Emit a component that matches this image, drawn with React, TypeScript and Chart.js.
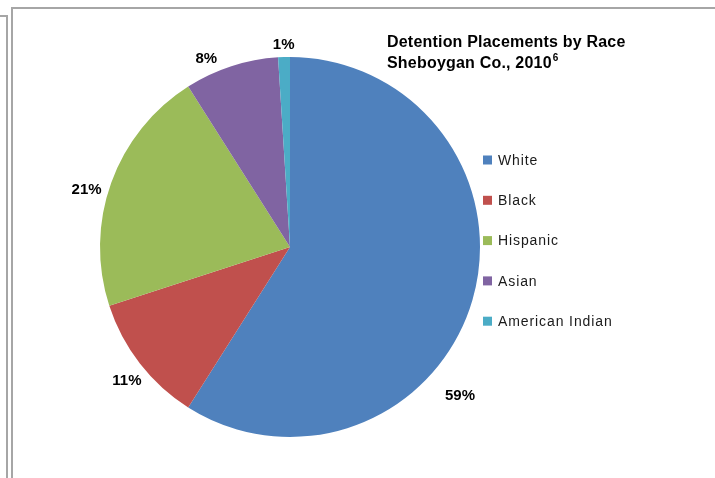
import React, { useEffect, useRef } from "react";
import { Chart, registerables } from "chart.js";

Chart.register(...registerables);

const categories = ["White", "Black", "Hispanic", "Asian", "American Indian"];
const percentages = [59, 11, 21, 8, 1];
const colors = ["#4F81BD", "#C0504D", "#9BBB59", "#8064A2", "#4BACC6"];
const titleLine1 = "Detention Placements by Race";
const titleLine2 = "Sheboygan Co., 2010";
const titleSup = "6";

const FONT = "'Liberation Sans', Arial, sans-serif";

const labelPlugin = {
  id: "pctLabels",
  afterDatasetsDraw(chart: any, _args: any, opts: any) {
    const ctx = chart.ctx;
    const meta = chart.getDatasetMeta(0);
    const shifts: number[] = opts.angleShiftDeg || [];
    const extras: number[] = opts.extraGap || [];
    ctx.save();
    ctx.font = `bold 15px ${FONT}`;
    ctx.fillStyle = "#000";
    ctx.textAlign = "center";
    ctx.textBaseline = "middle";
    meta.data.forEach((arc: any, i: number) => {
      const p = arc.getProps(["x", "y", "startAngle", "endAngle", "outerRadius"], true);
      const mid = (p.startAngle + p.endAngle) / 2 + ((shifts[i] || 0) * Math.PI) / 180;
      const text = `${percentages[i]}%`;
      const w = ctx.measureText(text).width;
      const h = 14;
      const c = Math.cos(mid);
      const s = Math.sin(mid);
      const ext = Math.abs(c) * (w / 2) + Math.abs(s) * (h / 2);
      const r = p.outerRadius + ext + 5 + (extras[i] || 0);
      ctx.fillText(text, p.x + c * r, p.y + s * r);
    });
    ctx.restore();
  },
};

const titleLegendPlugin = {
  id: "titleLegend",
  afterDraw(chart: any, _args: any, opts: any) {
    const ctx = chart.ctx;
    ctx.save();
    ctx.fillStyle = "#000";
    ctx.textAlign = "left";
    ctx.textBaseline = "alphabetic";
    ctx.font = `bold 16px ${FONT}`;
    (ctx as any).letterSpacing = "0.2px";
    ctx.fillText(titleLine1, opts.titleX, opts.titleY1);
    ctx.fillText(titleLine2, opts.titleX, opts.titleY2);
    const w2 = ctx.measureText(titleLine2).width;
    ctx.font = `bold 10px ${FONT}`;
    ctx.fillText(titleSup, opts.titleX + w2 + 1, opts.titleY2 - 7);
    ctx.font = `14px ${FONT}`;
    (ctx as any).letterSpacing = "0.9px";
    ctx.textBaseline = "middle";
    categories.forEach((cat, i) => {
      const cy = opts.legendY + i * opts.legendStep;
      ctx.fillStyle = colors[i];
      ctx.fillRect(opts.legendX, cy - 4.5, 9, 9);
      ctx.fillStyle = "#1a1a1a";
      ctx.fillText(cat, opts.legendX + 15, cy + 1);
    });
    ctx.restore();
  },
};

export default function App() {
  const ref = useRef<HTMLCanvasElement>(null);
  useEffect(() => {
    if (!ref.current) return;
    const chart = new Chart(ref.current, {
      type: "pie",
      data: {
        labels: categories,
        datasets: [
          {
            data: percentages,
            backgroundColor: colors,
            borderWidth: 0,
          },
        ],
      },
      options: {
        responsive: false,
        animation: false,
        layout: { padding: { top: 57, bottom: 41, left: 100, right: 235 } },
        plugins: {
          legend: { display: false },
          tooltip: { enabled: false },
          title: { display: false },
          pctLabels: { angleShiftDeg: [25, -1.5, -4, -6, 0], extraGap: [15, 0, 0, 0, 0] },
          titleLegend: {
            titleX: 387,
            titleY1: 47,
            titleY2: 68,
            legendX: 483,
            legendY: 160,
            legendStep: 40.3,
          },
        } as any,
      },
      plugins: [labelPlugin, titleLegendPlugin],
    });
    return () => chart.destroy();
  }, []);

  return (
    <div style={{ position: "fixed", left: 0, top: 0, width: 715, height: 478, background: "#fff", overflow: "hidden" }}>
      <div
        style={{
          position: "absolute",
          left: 11,
          top: 7,
          right: -10,
          bottom: -10,
          borderTop: "2px solid #A6A6A6",
          borderLeft: "2px solid #A6A6A6",
        }}
      />
      <div
        style={{
          position: "absolute",
          left: -10,
          top: 15,
          width: 16,
          bottom: -10,
          borderTop: "2px solid #A6A6A6",
          borderRight: "2px solid #A6A6A6",
        }}
      />
      <canvas ref={ref} width={715} height={478} style={{ position: "absolute", left: 0, top: 0 }} />
    </div>
  );
}
